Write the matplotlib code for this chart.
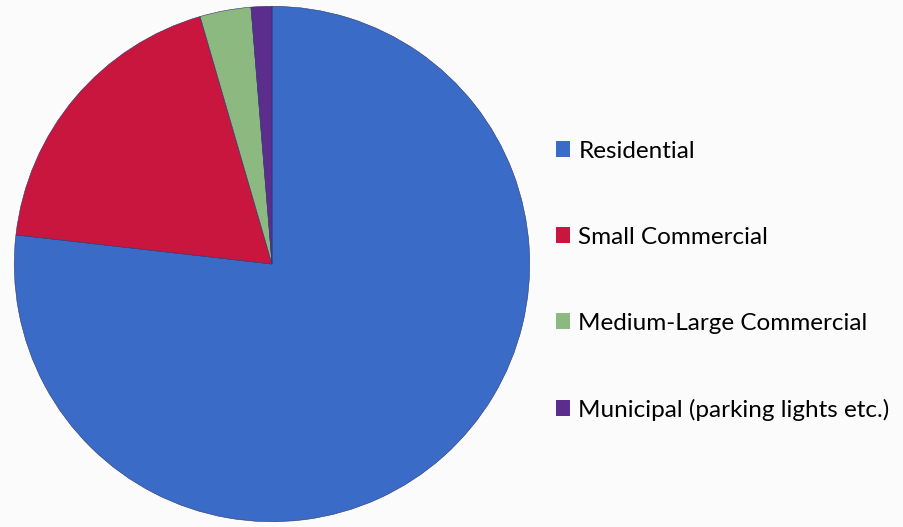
import matplotlib.pyplot as plt
from matplotlib.patches import Patch

plt.rcParams['font.family'] = ['Lato', 'DejaVu Sans']

labels = ['Residential', 'Small Commercial', 'Medium-Large Commercial',
          'Municipal (parking lights etc.)']
shares = [76.8, 18.7, 3.2, 1.3]
colors = ['#3A6BC6', '#C8163E', '#8CB97F', '#5B2D8C']

fig = plt.figure(figsize=(9.04, 5.27), dpi=100, facecolor='#FBFBFB')

# pie fills the left part of the figure
ax = fig.add_axes([13 / 904, 4 / 527, 518 / 904, 518 / 527])
ax.pie(shares, colors=colors, startangle=90, counterclock=False,
       wedgeprops=dict(linewidth=0.4, edgecolor='#2E3470'))
ax.set_xlim(-1.005, 1.005)
ax.set_ylim(-1.005, 1.005)
ax.set_aspect('equal')

handles = [Patch(facecolor=c, edgecolor='none') for c in colors]
fig.legend(handles, labels, loc='upper left', bbox_to_anchor=(546 / 904, 1 - 131 / 527),
           frameon=False, fontsize=17.5, handlelength=0.6, handleheight=0.6,
           handletextpad=0.33, labelspacing=2.67, borderaxespad=0)

fig.savefig('out.png', dpi=100, facecolor=fig.get_facecolor())
